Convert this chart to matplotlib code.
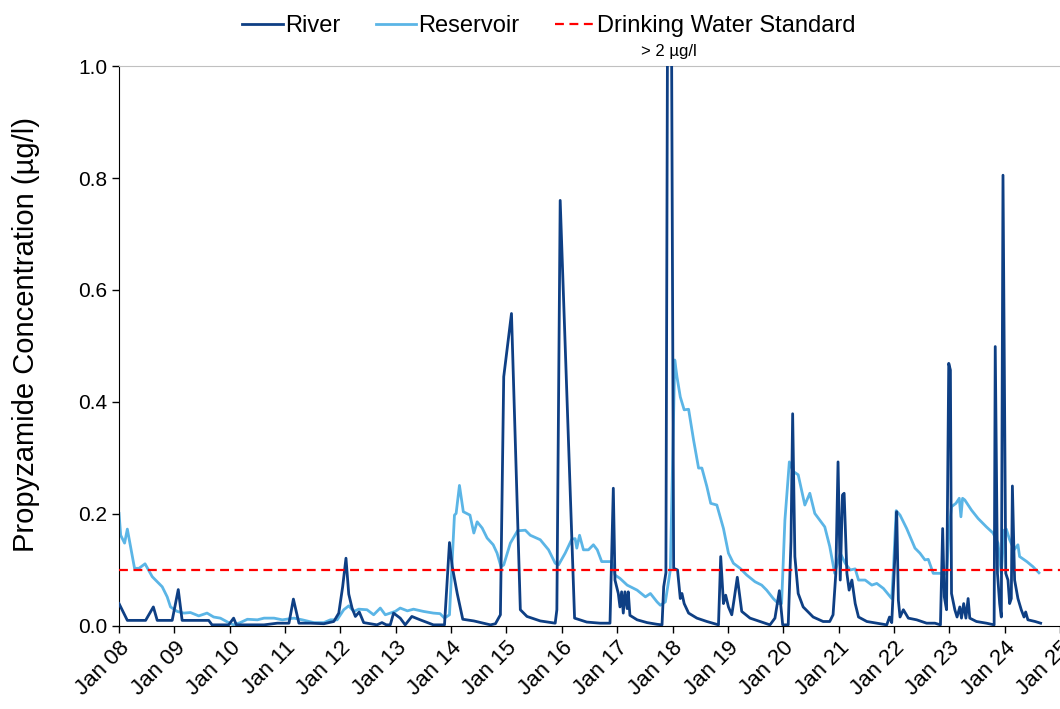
import matplotlib
matplotlib.use('Agg')
import matplotlib.pyplot as plt

plt.rcParams['font.family'] = ['Liberation Sans', 'DejaVu Sans']

# years after Jan 2008
river_t = [0.00, 0.15, 0.48, 0.62, 0.69, 0.96, 1.07, 1.14, 1.62, 1.68, 1.98, 2.07, 2.12, 2.62,
           2.86, 3.07, 3.15, 3.25, 3.46, 3.70, 3.88, 3.97, 4.04, 4.10, 4.15, 4.21, 4.27, 4.34,
           4.42, 4.66, 4.75, 4.83, 4.90, 4.96, 5.08, 5.17, 5.29, 5.44, 5.68, 5.88, 5.93, 5.97,
           6.02, 6.11, 6.21, 6.41, 6.71, 6.80, 6.89, 6.95, 7.09, 7.25, 7.37, 7.61, 7.88, 7.91,
           7.97, 8.23, 8.45, 8.69, 8.87, 8.93, 8.96, 9.02, 9.05, 9.08, 9.11, 9.14, 9.18, 9.20,
           9.23, 9.36, 9.54, 9.72, 9.81, 9.84, 9.88, 9.94, 10.02, 10.09, 10.14, 10.17, 10.21,
           10.29, 10.44, 10.62, 10.83, 10.87, 10.92, 10.96, 11.01, 11.07, 11.11, 11.17, 11.25,
           11.40, 11.58, 11.76, 11.85, 11.93, 11.99, 12.09, 12.14, 12.17, 12.21, 12.27, 12.36,
           12.54, 12.72, 12.84, 12.90, 12.95, 12.99, 13.03, 13.07, 13.10, 13.15, 13.19, 13.24,
           13.30, 13.36, 13.51, 13.69, 13.87, 13.92, 13.96, 14.02, 14.05, 14.08, 14.11, 14.17,
           14.26, 14.41, 14.59, 14.74, 14.84, 14.88, 14.91, 14.95, 14.99, 15.02, 15.04, 15.10,
           15.14, 15.19, 15.22, 15.26, 15.30, 15.34, 15.37, 15.49, 15.67, 15.81, 15.83, 15.87,
           15.91, 15.94, 15.97, 16.02, 16.06, 16.09, 16.12, 16.14, 16.18, 16.24, 16.30, 16.35,
           16.38, 16.42, 16.55, 16.65]
river_v = [0.040, 0.010, 0.010, 0.034, 0.010, 0.010, 0.065, 0.010, 0.010, 0.002, 0.002, 0.014,
           0.002, 0.002, 0.005, 0.005, 0.048, 0.005, 0.005, 0.004, 0.008, 0.023, 0.070, 0.121,
           0.057, 0.032, 0.017, 0.025, 0.006, 0.002, 0.006, 0.002, 0.002, 0.023, 0.014, 0.002,
           0.017, 0.011, 0.002, 0.002, 0.082, 0.149, 0.106, 0.058, 0.012, 0.009, 0.002, 0.004,
           0.020, 0.445, 0.558, 0.029, 0.017, 0.009, 0.005, 0.029, 0.760, 0.014, 0.007, 0.005,
           0.005, 0.246, 0.082, 0.058, 0.034, 0.061, 0.023, 0.061, 0.031, 0.061, 0.019, 0.011,
           0.006, 0.003, 0.002, 0.070, 0.095, 2.100, 0.103, 0.100, 0.049, 0.058, 0.040, 0.023,
           0.014, 0.008, 0.002, 0.124, 0.040, 0.055, 0.034, 0.020, 0.046, 0.087, 0.026, 0.014,
           0.008, 0.002, 0.014, 0.063, 0.002, 0.002, 0.151, 0.379, 0.124, 0.058, 0.034, 0.016,
           0.008, 0.008, 0.020, 0.094, 0.293, 0.082, 0.234, 0.237, 0.094, 0.064, 0.082, 0.040,
           0.016, 0.008, 0.005, 0.002, 0.016, 0.006, 0.130, 0.204, 0.046, 0.016, 0.029, 0.014,
           0.011, 0.005, 0.005, 0.002, 0.174, 0.052, 0.029, 0.469, 0.457, 0.058, 0.029, 0.016,
           0.034, 0.014, 0.040, 0.014, 0.049, 0.014, 0.008, 0.005, 0.002, 0.499, 0.094, 0.040,
           0.016, 0.805, 0.094, 0.082, 0.040, 0.049, 0.250, 0.082, 0.049, 0.029, 0.016, 0.025,
           0.011, 0.008, 0.005]

res_t = [0.00, 0.03, 0.10, 0.15, 0.28, 0.36, 0.47, 0.60, 0.78, 0.87, 0.93, 1.05, 1.17, 1.29,
         1.44, 1.59, 1.71, 1.83, 1.98, 2.07, 2.19, 2.32, 2.50, 2.62, 2.80, 2.95, 3.16, 3.31,
         3.52, 3.70, 3.82, 3.94, 4.06, 4.15, 4.24, 4.33, 4.48, 4.60, 4.72, 4.81, 4.99, 5.08,
         5.21, 5.32, 5.50, 5.68, 5.80, 5.88, 5.97, 6.06, 6.09, 6.15, 6.22, 6.34, 6.41, 6.47,
         6.56, 6.65, 6.76, 6.83, 6.90, 6.95, 7.07, 7.20, 7.34, 7.43, 7.61, 7.76, 7.88, 7.94,
         8.06, 8.18, 8.24, 8.27, 8.32, 8.39, 8.48, 8.57, 8.64, 8.72, 8.90, 8.96, 9.05, 9.18,
         9.36, 9.51, 9.60, 9.72, 9.78, 9.87, 9.96, 10.04, 10.08, 10.14, 10.21, 10.29, 10.38,
         10.47, 10.53, 10.62, 10.69, 10.80, 10.92, 11.01, 11.10, 11.22, 11.34, 11.49, 11.61,
         11.70, 11.82, 11.91, 11.97, 12.03, 12.11, 12.18, 12.27, 12.39, 12.48, 12.57, 12.66,
         12.75, 12.84, 12.93, 13.03, 13.12, 13.21, 13.30, 13.36, 13.48, 13.60, 13.69, 13.81,
         13.96, 13.99, 14.04, 14.11, 14.23, 14.38, 14.47, 14.56, 14.62, 14.71, 14.83, 14.95,
         15.00, 15.04, 15.12, 15.18, 15.21, 15.24, 15.28, 15.40, 15.52, 15.67, 15.79, 15.88,
         15.94, 15.99, 16.03, 16.09, 16.17, 16.24, 16.27, 16.40, 16.51, 16.62]
res_v = [0.201, 0.162, 0.148, 0.173, 0.103, 0.103, 0.111, 0.088, 0.070, 0.052, 0.034, 0.026,
         0.023, 0.024, 0.018, 0.023, 0.016, 0.014, 0.006, 0.002, 0.006, 0.012, 0.011, 0.014,
         0.014, 0.011, 0.014, 0.011, 0.006, 0.006, 0.011, 0.011, 0.029, 0.036, 0.026, 0.030,
         0.029, 0.020, 0.032, 0.020, 0.026, 0.032, 0.027, 0.030, 0.026, 0.023, 0.022, 0.014,
         0.020, 0.198, 0.201, 0.251, 0.204, 0.198, 0.166, 0.186, 0.175, 0.157, 0.145, 0.130,
         0.106, 0.109, 0.148, 0.170, 0.171, 0.162, 0.154, 0.136, 0.112, 0.109, 0.130, 0.155,
         0.156, 0.139, 0.162, 0.136, 0.136, 0.145, 0.136, 0.115, 0.115, 0.091, 0.085, 0.073,
         0.064, 0.052, 0.058, 0.043, 0.037, 0.043, 0.100, 0.475, 0.445, 0.409, 0.386, 0.387,
         0.332, 0.282, 0.282, 0.249, 0.219, 0.216, 0.174, 0.130, 0.112, 0.103, 0.091, 0.079,
         0.073, 0.064, 0.049, 0.040, 0.040, 0.189, 0.293, 0.276, 0.270, 0.216, 0.237, 0.201,
         0.189, 0.177, 0.142, 0.094, 0.130, 0.112, 0.100, 0.102, 0.082, 0.082, 0.073, 0.076,
         0.067, 0.049, 0.100, 0.206, 0.198, 0.174, 0.139, 0.130, 0.118, 0.119, 0.094, 0.094,
         0.093, 0.177, 0.213, 0.219, 0.228, 0.195, 0.228, 0.225, 0.207, 0.192, 0.177, 0.166,
         0.148, 0.094, 0.171, 0.173, 0.154, 0.136, 0.145, 0.124, 0.115, 0.106, 0.095]

standard = 0.1
year_labels = ['Jan %02d' % (y % 100) for y in range(2008, 2026)]

fig = plt.figure(figsize=(10.6, 7.09), dpi=100)
ax = fig.add_axes([0.1123, 0.1171, 0.8877, 0.7898])

ax.plot(res_t, res_v, color='#5BB5E6', lw=2.0, label='Reservoir', zorder=2)
ax.plot(river_t, river_v, color='#0E3F84', lw=2.0, label='River', zorder=3)
ax.axhline(standard, color='#FF0000', lw=1.6, ls=(0, (4, 2.5)),
           label='Drinking Water Standard', zorder=4)

ax.set_xlim(0, 17)
ax.set_ylim(0, 1.0)
ax.set_xticks(range(18))
ax.set_xticklabels(year_labels, rotation=45, ha='right', rotation_mode='anchor', fontsize=16)
ax.set_yticks([0, 0.2, 0.4, 0.6, 0.8, 1.0])
ax.set_yticklabels(['0.0', '0.2', '0.4', '0.6', '0.8', '1.0'], fontsize=15)
ax.tick_params(direction='out', length=5, width=1)
ax.set_ylabel('Propyzamide Concentration (µg/l)', fontsize=21)
ax.yaxis.set_label_coords(-0.084, 0.52)

ax.spines['right'].set_visible(False)
ax.spines['top'].set_color('#C0C0C0')

ax.text(9.94, 1.012, '> 2 µg/l', ha='center', va='bottom', fontsize=12)

handles, labels = ax.get_legend_handles_labels()
order = [1, 0, 2]
fig.legend([handles[i] for i in order], [labels[i] for i in order],
           loc='center', bbox_to_anchor=(0.518, 0.963), ncol=3, frameon=False,
           fontsize=17, handlelength=1.7, handletextpad=0.1, columnspacing=1.5)

fig.savefig('out.png', dpi=100)
